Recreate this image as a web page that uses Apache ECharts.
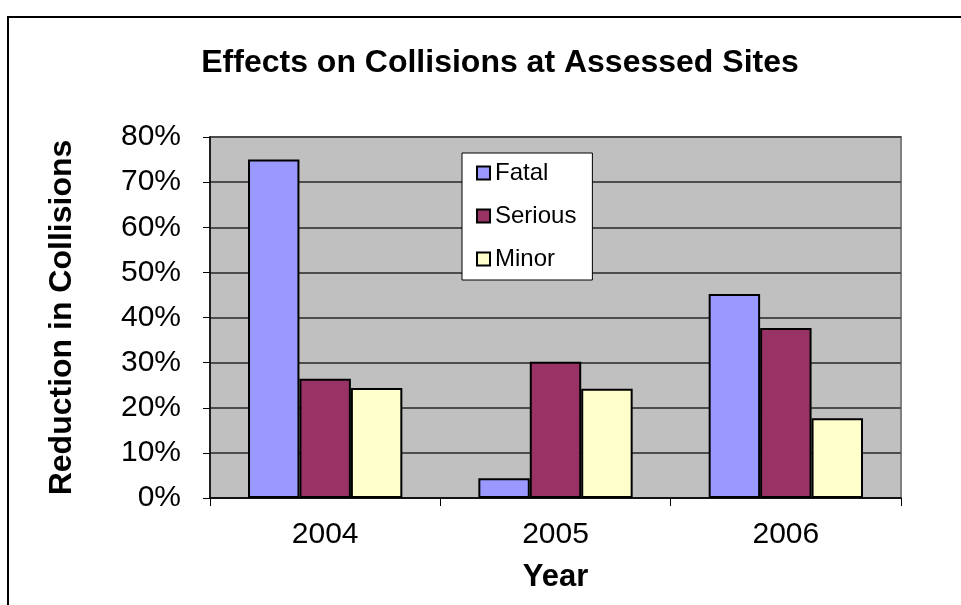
<!DOCTYPE html>
<html>
<head>
<meta charset="utf-8">
<script src="https://cdn.jsdelivr.net/npm/echarts@6/dist/echarts.min.js"></script>
<style>
  html, body { margin: 0; padding: 0; background: #fff; }
  #chart { width: 961px; height: 605px; }
</style>
</head>
<body>
<div id="chart"></div>
<script>
const years = ['2004', '2005', '2006']
const fatal = [75, 4.4, 45.2]
const serious = [26.4, 30.2, 37.7]
const minor = [24.4, 24.2, 17.7]
const yTicks = [0, 10, 20, 30, 40, 50, 60, 70, 80]

const font = 'Liberation Sans, Arial, sans-serif'
const chart = echarts.init(document.getElementById('chart'))

function barSeries(name, data, color) {
  return {
    name: name,
    type: 'bar',
    data: data,
    barGap: '0%',
    barCategoryGap: '33%',
    itemStyle: { color: color, borderColor: '#000', borderWidth: 2 },
  }
}

chart.setOption({
  animation: false,
  textStyle: { fontFamily: font },
  title: {
    text: 'Effects on Collisions at Assessed Sites',
    left: 495,
    top: 42,
    textAlign: 'center',
    textStyle: { fontSize: 32, fontWeight: 'bold', color: '#000', fontFamily: font },
  },
  // outer chart frame
  graphic: [{
    type: 'rect',
    shape: { x: 8, y: 17, width: 970, height: 620 },
    style: { fill: 'none', stroke: '#000', lineWidth: 2 },
    silent: true,
  }],
  legend: {
    orient: 'vertical',
    left: 462,
    top: 153,
    padding: [8, 16, 9, 14],
    itemGap: 19,
    itemWidth: 13,
    itemHeight: 13,
    icon: 'rect',
    backgroundColor: '#fff',
    borderColor: '#000',
    borderWidth: 1,
    textStyle: { fontSize: 24, color: '#000', fontFamily: font },
    data: ['Fatal', 'Serious', 'Minor'],
  },
  grid: {
    left: 210,
    right: 60,
    top: 137,
    bottom: 107,
    show: true,
    backgroundColor: '#C0C0C0',
    borderColor: '#808080',
    borderWidth: 2,
  },
  xAxis: {
    type: 'category',
    data: years,
    name: 'Year',
    nameLocation: 'middle',
    nameGap: 64,
    nameTextStyle: { fontSize: 31, fontWeight: 'bold', color: '#000' },
    axisLine: { lineStyle: { color: '#000', width: 1.5 } },
    axisTick: { show: true, length: 8, lineStyle: { color: '#000' } },
    axisLabel: { fontSize: 30, color: '#000', margin: 22 },
  },
  yAxis: {
    type: 'value',
    min: yTicks[0],
    max: yTicks[yTicks.length - 1],
    interval: 10,
    name: 'Reduction in Collisions',
    nameLocation: 'middle',
    nameGap: 132,
    nameTextStyle: { fontSize: 32, fontWeight: 'bold', color: '#000' },
    axisLine: { show: true, lineStyle: { color: '#000', width: 1.5 } },
    axisTick: { show: true, length: 7, lineStyle: { color: '#000' } },
    axisLabel: { fontSize: 30, color: '#000', margin: 29, formatter: '{value}%' },
    splitLine: { lineStyle: { color: '#4d4d4d', width: 2 } },
  },
  series: [
    barSeries('Fatal', fatal, '#9999FF'),
    barSeries('Serious', serious, '#993366'),
    barSeries('Minor', minor, '#FFFFCC'),
  ],
})
</script>
</body>
</html>
